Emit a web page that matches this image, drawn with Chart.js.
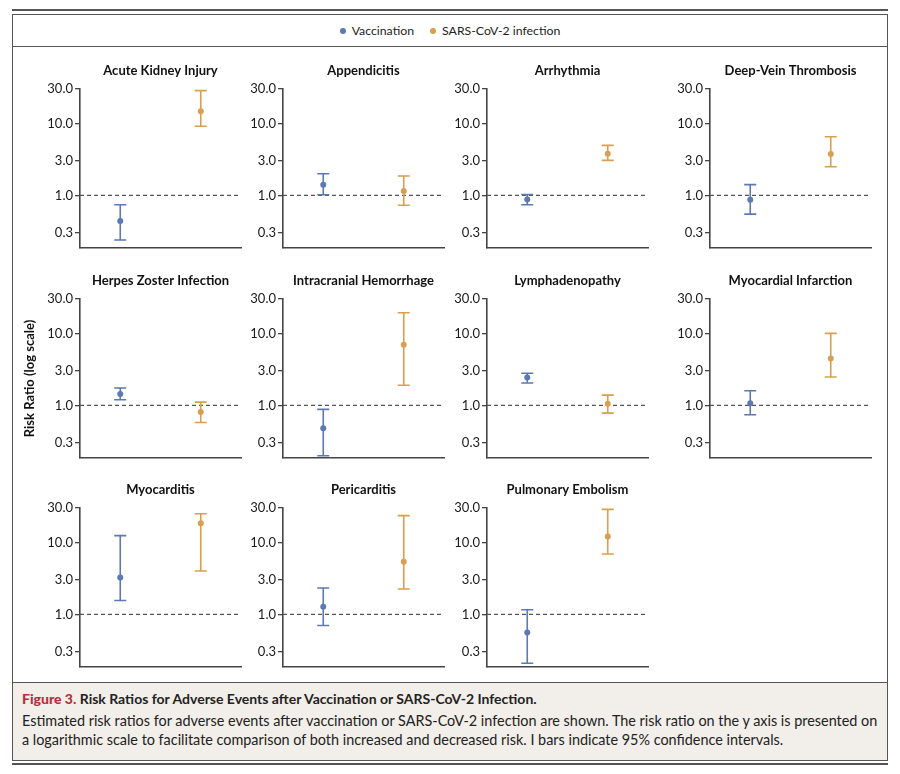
<!DOCTYPE html>
<html>
<head>
<meta charset="utf-8">
<script src="https://cdn.jsdelivr.net/npm/chart.js@4.4.1/dist/chart.umd.min.js"></script>
<style>
  body { margin: 0; background: #fff; font-family: Lato, sans-serif; color: #222; }
  #page { position: relative; width: 900px; height: 774px; overflow: hidden; }
  .rule { position: absolute; left: 12px; width: 876px; height: 2px; background: #555; }
  #frame { position: absolute; left: 12px; top: 14px; width: 874px; height: 745px; border: 1px solid #555; }
  #legend { position: absolute; left: 13px; top: 15px; width: 874px; height: 31px; border-bottom: 1px solid #555;
            display: flex; justify-content: center; align-items: center; font-size: 12.3px; }
  #legend span.dot { display: inline-block; width: 6px; height: 6px; border-radius: 50%; margin: 0 6px 0 0; }
  #legend span.item { margin: 0 8px; display: flex; align-items: center; }
  #caption { position: absolute; left: 13px; top: 682px; width: 874px; height: 77px; background: #f2eee9;
             border-top: 1px solid #555; }
  #caption .head { position: absolute; left: 9px; top: 7px; font-size: 14px; font-weight: bold; white-space: nowrap; }
  #caption .head b { color: #b5303a; }
  #caption .body { position: absolute; left: 9px; top: 28px; font-size: 14.4px; line-height: 19px; white-space: nowrap; }
  canvas { position: absolute; }
</style>
</head>
<body>
<div id="page">
  <div class="rule" style="top:9px"></div>
  <div id="frame"></div>
  <div id="legend">
    <span class="item"><span class="dot" style="background:#5b79b3"></span>Vaccination</span>
    <span class="item"><span class="dot" style="background:#d79f4f"></span>SARS-CoV-2 infection</span>
  </div>
  <div id="caption">
    <div class="head"><b>Figure 3.</b> Risk Ratios for Adverse Events after Vaccination or SARS-CoV-2 Infection.</div>
    <div class="body">Estimated risk ratios for adverse events after vaccination or SARS-CoV-2 infection are shown. The risk ratio on the y axis is presented on<br>a logarithmic scale to facilitate comparison of both increased and decreased risk. I bars indicate 95% confidence intervals.</div>
  </div>
  <div class="rule" style="top:763px"></div>
</div>
<script>
var PANELS = ['Acute Kidney Injury', 'Appendicitis', 'Arrhythmia', 'Deep-Vein Thrombosis',
              'Herpes Zoster Infection', 'Intracranial Hemorrhage', 'Lymphadenopathy', 'Myocardial Infarction',
              'Myocarditis', 'Pericarditis', 'Pulmonary Embolism'];
var SERIES = ['Vaccination', 'SARS-CoV-2 infection'];
// risk ratio and 95% CI, one entry per panel
var VAC_RR = [0.44, 1.41, 0.88, 0.87, 1.44, 0.48, 2.43, 1.07, 3.26, 1.28, 0.56];
var VAC_LO = [0.24, 1.02, 0.74, 0.55, 1.20, 0.20, 2.05, 0.74, 1.56, 0.70, 0.21];
var VAC_HI = [0.74, 2.00, 1.03, 1.41, 1.74, 0.88, 2.80, 1.60, 12.4, 2.32, 1.16];
var INF_RR = [14.7, 1.15, 3.79, 3.76, 0.81, 6.95, 1.05, 4.48, 18.4, 5.39, 12.1];
var INF_LO = [9.1, 0.73, 3.06, 2.50, 0.58, 1.90, 0.78, 2.48, 4.0, 2.25, 6.9];
var INF_HI = [28.5, 1.86, 4.95, 6.53, 1.11, 19.3, 1.39, 10.0, 25.0, 23.5, 28.7];
var Y_TICKS = [0.3, 1, 3, 10, 30];

var BLUE = '#5b79b3';
var ORANGE = '#d79f4f';
var AXIS = '#444';
var COL_X = [80, 283, 487, 710];   // y axis line of each column
var ROW_Y = [89, 298.5, 508];      // top of each plot area
var PLOT_W = 161, PLOT_H = 159;

var refLine = {
    id: 'refLine',
    beforeDatasetsDraw: function (chart) {
        var ctx = chart.ctx, a = chart.chartArea;
        var y = chart.scales.y.getPixelForValue(1);
        ctx.save();
        ctx.strokeStyle = '#555';
        ctx.lineWidth = 1.2;
        ctx.setLineDash([4, 3]);
        ctx.beginPath();
        ctx.moveTo(a.left, y);
        ctx.lineTo(a.right, y);
        ctx.stroke();
        ctx.restore();
    }
};

var errorBars = {
    id: 'errorBars',
    beforeDatasetsDraw: function (chart) {
        var ctx = chart.ctx, ys = chart.scales.y;
        chart.data.datasets.forEach(function (ds, d) {
            chart.getDatasetMeta(d).data.forEach(function (pt, j) {
                if (ds.errLo[j] == null) return;
                var top = ys.getPixelForValue(ds.errHi[j]);
                var bot = ys.getPixelForValue(ds.errLo[j]);
                ctx.save();
                ctx.strokeStyle = ds.borderColor;
                ctx.lineWidth = 1.6;
                ctx.beginPath();
                ctx.moveTo(pt.x, top); ctx.lineTo(pt.x, bot);
                ctx.moveTo(pt.x - 6, top); ctx.lineTo(pt.x + 6, top);
                ctx.moveTo(pt.x - 6, bot); ctx.lineTo(pt.x + 6, bot);
                ctx.stroke();
                ctx.restore();
            });
        });
    }
};

var page = document.getElementById('page');

PANELS.forEach(function (name, i) {
    var col = i % 4, row = Math.floor(i / 4);
    var yw = col === 0 ? 66 : 42;
    var w = yw + PLOT_W + 4, h = 201;
    var holder = document.createElement('div');
    holder.style.cssText = 'position:absolute;left:' + (COL_X[col] - yw) + 'px;top:' + (ROW_Y[row] - 30) +
        'px;width:' + w + 'px;height:' + h + 'px;';
    var cv = document.createElement('canvas');
    cv.style.cssText = 'left:0;top:0;width:' + w + 'px;height:' + h + 'px;';
    holder.appendChild(cv);
    page.appendChild(holder);

    new Chart(cv.getContext('2d'), {
        type: 'line',
        data: {
            labels: SERIES,
            datasets: [{
                label: SERIES[0],
                data: [VAC_RR[i], null],
                errLo: [VAC_LO[i], null],
                errHi: [VAC_HI[i], null],
                borderColor: BLUE,
                backgroundColor: BLUE,
                showLine: false,
                pointRadius: 3,
                pointBorderWidth: 0
            }, {
                label: SERIES[1],
                data: [null, INF_RR[i]],
                errLo: [null, INF_LO[i]],
                errHi: [null, INF_HI[i]],
                borderColor: ORANGE,
                backgroundColor: ORANGE,
                showLine: false,
                pointRadius: 3,
                pointBorderWidth: 0
            }]
        },
        options: {
            responsive: false,
            animation: false,
            layout: { padding: { top: 4, right: 4, bottom: 2, left: 0 } },
            plugins: {
                legend: { display: false },
                tooltip: { enabled: false },
                title: {
                    display: true,
                    text: name,
                    fullSize: false,
                    color: '#111',
                    font: { family: 'Lato', size: 13, weight: 'bold', lineHeight: 1.2 },
                    padding: { top: 0, bottom: 10.4 }
                }
            },
            scales: {
                x: {
                    type: 'category',
                    offset: true,
                    ticks: { display: false },
                    grid: { display: false, drawTicks: false },
                    border: { display: true, color: AXIS, width: 1.6 },
                    afterFit: function (s) { s.height = 10; }
                },
                y: {
                    type: 'logarithmic',
                    min: 0.186,
                    max: 30,
                    afterBuildTicks: function (s) { s.ticks = Y_TICKS.map(function (v) { return { value: v }; }); },
                    afterFit: function (s) { s.width = yw; },
                    ticks: {
                        autoSkip: false,
                        padding: 2,
                        color: '#1a1a1a',
                        font: { family: 'Lato', size: 13 },
                        callback: function (v) { return Number(v).toFixed(1); }
                    },
                    grid: { display: true, drawOnChartArea: false, drawTicks: true, tickLength: 5, color: AXIS, lineWidth: 1.3 },
                    border: { display: true, color: AXIS, width: 1.6 },
                    title: {
                        display: i === 4,
                        text: 'Risk Ratio (log scale)',
                        color: '#111',
                        font: { family: 'Lato', size: 13, weight: 'bold', lineHeight: 1.2 },
                        padding: { top: 8, bottom: 0 }
                    }
                }
            }
        },
        plugins: [refLine, errorBars]
    });
});
</script>
</body>
</html>
